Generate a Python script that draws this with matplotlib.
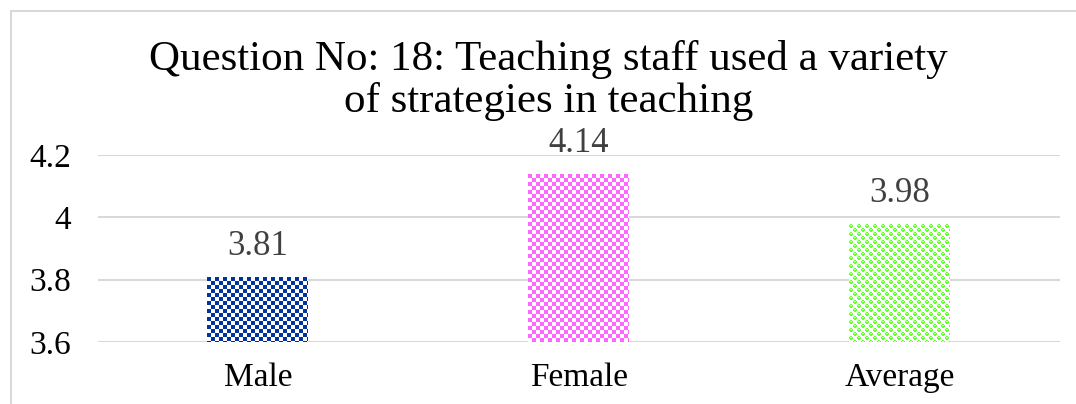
import numpy as np
import matplotlib
matplotlib.use('Agg')
import matplotlib.pyplot as plt
from matplotlib.patches import Rectangle

categories = ['Male', 'Female', 'Average']
scores = [3.81, 4.14, 3.98]
y_ticks = [3.6, 3.8, 4.0, 4.2]
y_tick_labels = ['3.6', '3.8', '4', '4.2']
title = 'Question No: 18: Teaching staff used a variety\nof strategies in teaching'

plt.rcParams['font.family'] = ['Liberation Serif', 'DejaVu Serif']


def checker_tile(color, cell=4):
    # plain two-colour checkerboard tile
    tile = np.ones((2 * cell, 2 * cell, 3))
    tile[:cell, :cell] = color
    tile[cell:, cell:] = color
    return tile


def sphere_tile(color):
    # rough "sphere" pattern: rounded green cells with a white highlight
    m = np.array([
        [0, 1, 1, 0, 0, 0, 0, 0],
        [1, 0, 0, 1, 0, 0, 0, 0],
        [1, 1, 1, 1, 0, 0, 0, 0],
        [0, 1, 1, 0, 0, 0, 0, 0],
        [0, 0, 0, 0, 0, 1, 1, 0],
        [0, 0, 0, 0, 1, 0, 0, 1],
        [0, 0, 0, 0, 1, 1, 1, 1],
        [0, 0, 0, 0, 0, 1, 1, 0],
    ])
    tile = np.ones((8, 8, 3))
    tile[m == 1] = color
    return tile


def fill_pattern(ax, bar, tile, fig):
    # paint the pattern pixel for pixel over the bar
    fig.canvas.draw()
    x0, y0 = ax.transData.transform((bar.get_x(), bar.get_y()))
    x1, y1 = ax.transData.transform((bar.get_x() + bar.get_width(), bar.get_y() + bar.get_height()))
    xo, yo = int(round(x0)), int(round(y0))
    w = int(round(x1)) - xo
    h = int(round(y1)) - yo
    th, tw = tile.shape[:2]
    img = np.tile(tile, (h // th + 2, w // tw + 2, 1))[:h, :w]
    fig.figimage(img, xo=xo, yo=yo, origin='upper', zorder=1)


fig = plt.figure(figsize=(10.76, 4.04), dpi=100)
ax = fig.add_axes([97.5 / 1076, 1 - 342 / 404, (1060 - 97.5) / 1076, (342 - 155) / 404])

# chart frame (only left and top edges show in the crop)
fig.patches.append(Rectangle((11 / 1076, -0.1), 1.2, 1 - 11 / 404 + 0.1, transform=fig.transFigure,
                             fill=False, edgecolor='#d9d9d9', linewidth=1.5))

x = np.arange(len(categories))
bars = ax.bar(x, [s - 3.6 for s in scores], bottom=3.6, width=0.315, color='white', zorder=2)

ax.set_xlim(-0.5, len(categories) - 0.5)
ax.set_ylim(3.6, 4.2)
ax.set_yticks(y_ticks)
ax.set_yticklabels(y_tick_labels, fontsize=24)
ax.set_xticks(x)
ax.set_xticklabels(categories, fontsize=24)
ax.tick_params(axis='x', length=0, pad=15)
ax.tick_params(axis='y', length=0, pad=19)
ax.yaxis.grid(True, color='#d9d9d9', linewidth=1.5)
ax.set_axisbelow(True)
for s in ax.spines.values():
    s.set_visible(False)

tiles = [checker_tile(np.array([0, 51, 160]) / 255),
         checker_tile(np.array([255, 102, 255]) / 255),
         sphere_tile(np.array([102, 255, 51]) / 255)]
for bar, tile in zip(bars, tiles):
    fill_pattern(ax, bar, tile, fig)

for xi, s in zip(x, scores):
    ax.annotate(f'{s:.2f}', (xi, s), xytext=(0, 10), textcoords='offset points',
                ha='center', va='bottom', fontsize=25, color='#404040', clip_on=False)

fig.text(0.51, 0.80, title, ha='center', va='center', fontsize=31, linespacing=1.1)

fig.savefig('out.png', dpi=100)
